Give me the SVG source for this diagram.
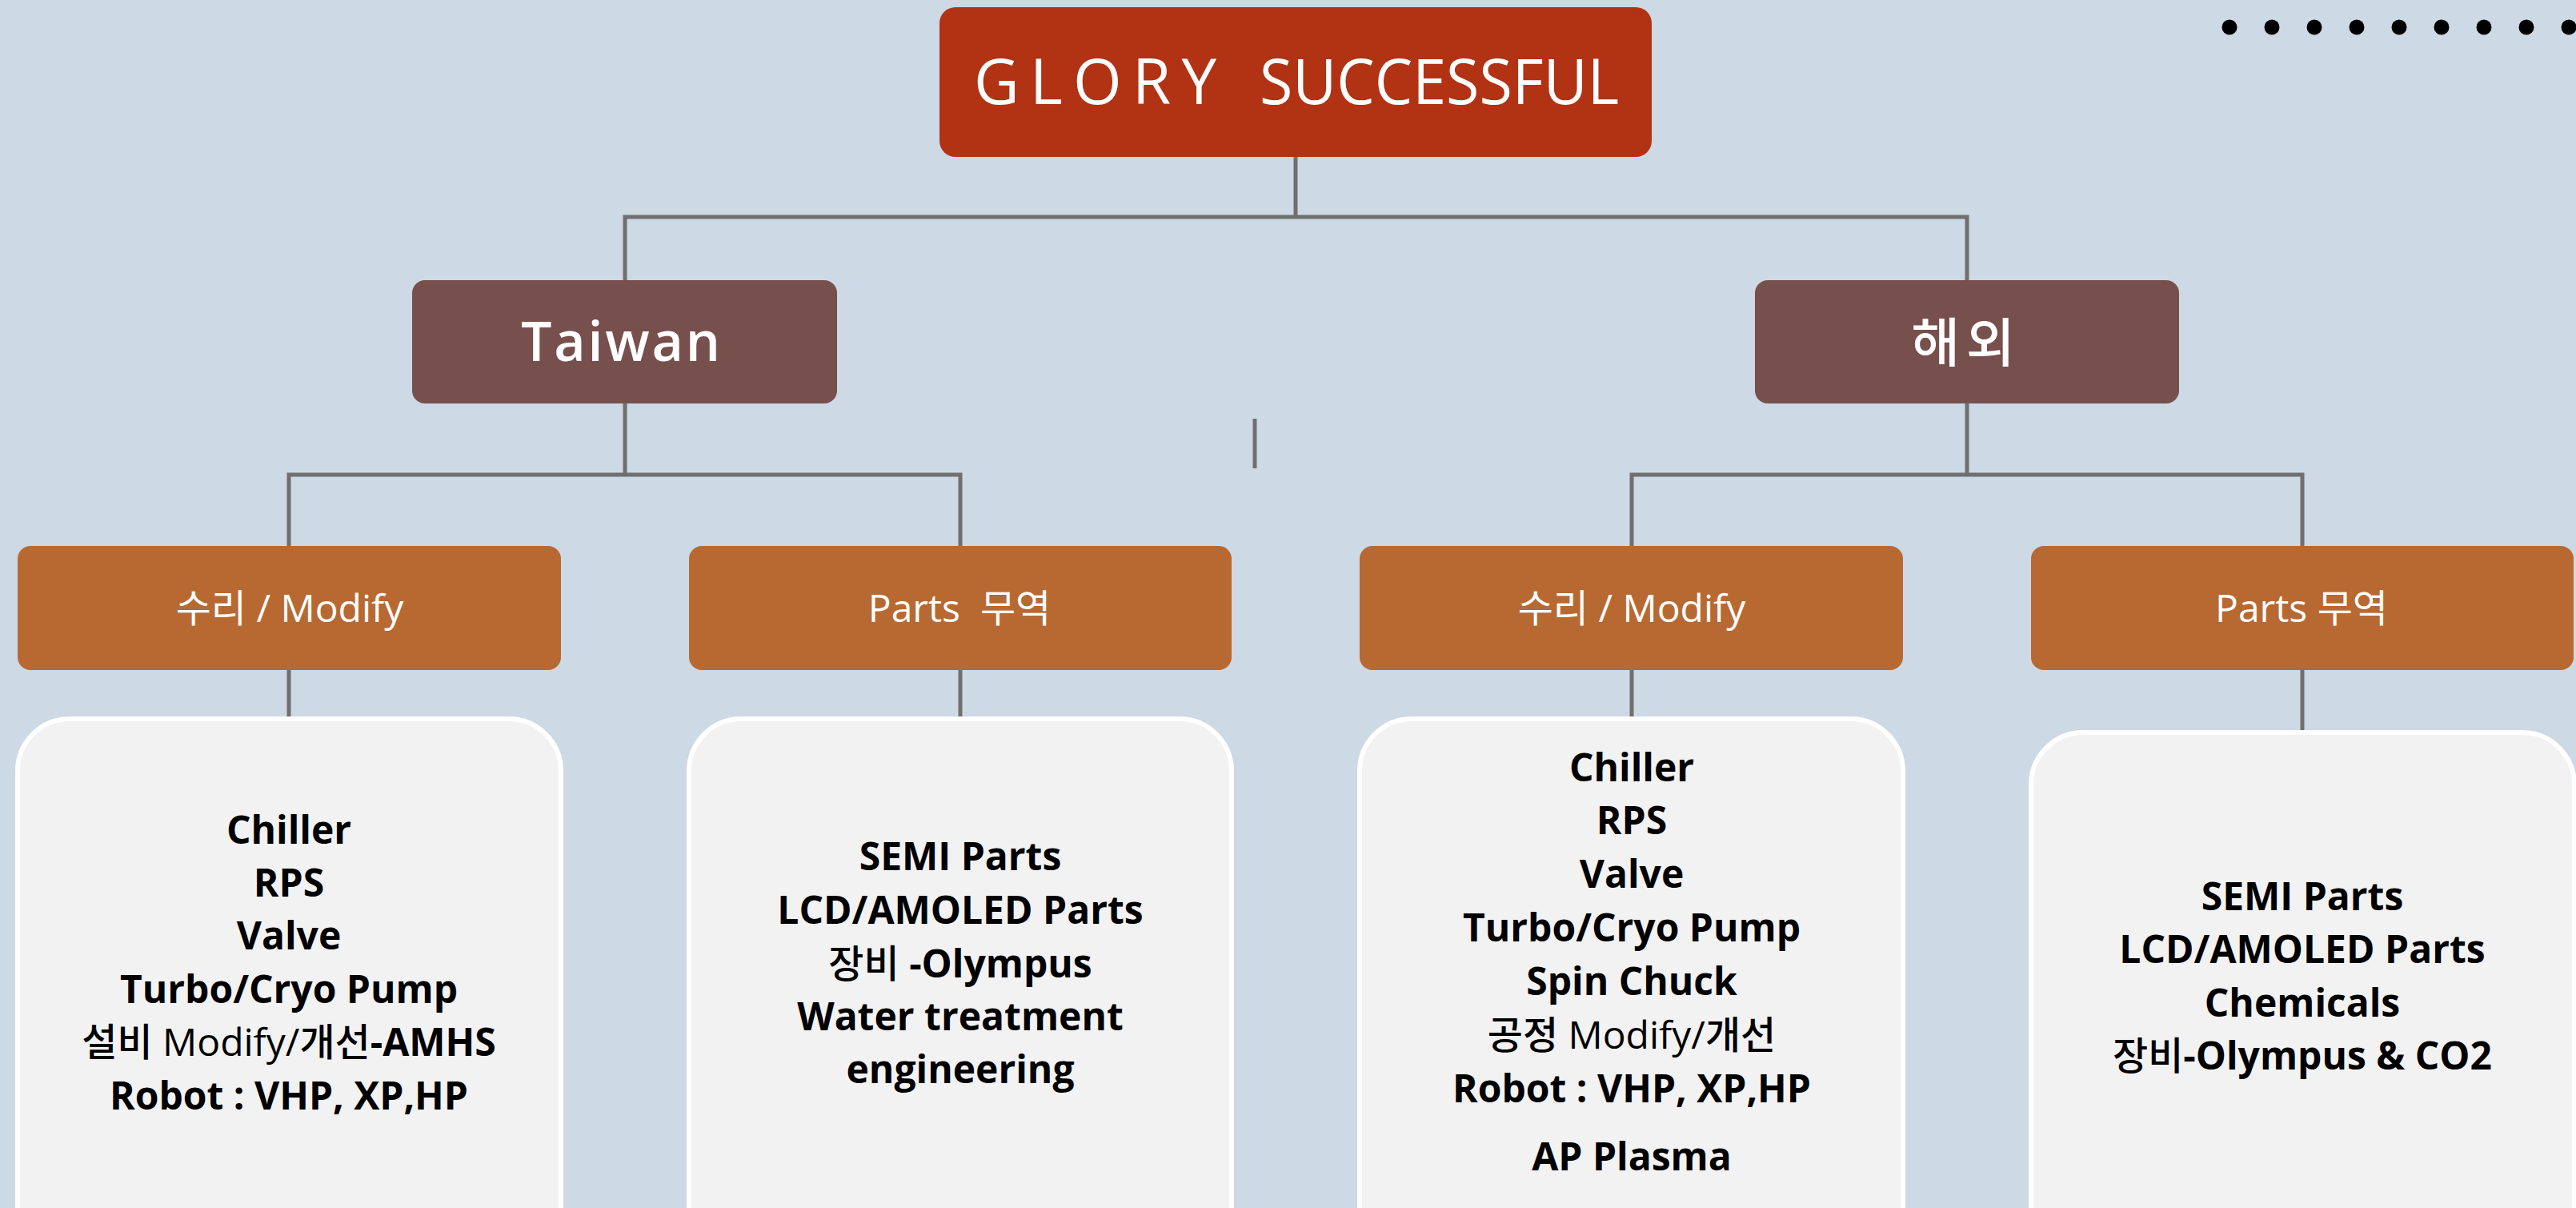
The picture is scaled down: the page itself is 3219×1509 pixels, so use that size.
<svg xmlns="http://www.w3.org/2000/svg" width="3219" height="1509" viewBox="0 0 3219 1509">
<style>
.bg{fill:#CDD9E4}
.conn{fill:none;stroke:#6F6F6F;stroke-width:5}
.top{fill:#B23214}
.region{fill:#774F4D}
.cat{fill:#B86932}
.card{fill:#F2F2F2;stroke:#FFFFFF;stroke-width:6}
.hdr{font-family:"Open Sans","Noto Sans CJK KR",sans-serif;fill:#FFFFFF}
.body{font-family:"Open Sans","Noto Sans CJK KR",sans-serif;font-weight:700;font-size:48px;fill:#000000;text-anchor:middle}
.ko{font-family:"Noto Sans CJK KR",sans-serif;font-weight:500}
.reg{font-weight:400}
.dot{fill:#000000}
</style>
<rect class="bg" x="0" y="0" width="3219" height="1509"/>

<g id="dots">
<circle class="dot" cx="2786" cy="34" r="9.5"/>
<circle class="dot" cx="2839" cy="34" r="9.5"/>
<circle class="dot" cx="2892" cy="34" r="9.5"/>
<circle class="dot" cx="2945" cy="34" r="9.5"/>
<circle class="dot" cx="2998" cy="34" r="9.5"/>
<circle class="dot" cx="3051" cy="34" r="9.5"/>
<circle class="dot" cx="3104" cy="34" r="9.5"/>
<circle class="dot" cx="3157" cy="34" r="9.5"/>
<circle class="dot" cx="3210" cy="34" r="9.5"/>
</g>

<g id="connectors">
<path class="conn" d="M1619,196 V271"/>
<path class="conn" d="M781,350 V271 H2458 V350"/>
<path class="conn" d="M781,504 V593"/>
<path class="conn" d="M361,682 V593 H1200 V682"/>
<path class="conn" d="M2458,504 V593"/>
<path class="conn" d="M2039,682 V593 H2877 V682"/>
<path class="conn" d="M361,837 V898"/>
<path class="conn" d="M1200,837 V898"/>
<path class="conn" d="M2039,837 V898"/>
<path class="conn" d="M2877,837 V915"/>
<path class="conn" d="M1568,523 V585"/>
</g>

<g id="root">
<rect class="top" x="1174" y="9" width="890" height="187" rx="20"/>
<text class="hdr" x="1217" y="130" font-size="78" textLength="303" lengthAdjust="spacing">GLORY</text>
<text class="hdr" x="1574" y="130" font-size="78" textLength="449" lengthAdjust="spacingAndGlyphs">SUCCESSFUL</text>
</g>

<g id="taiwan">
<rect class="region" x="515" y="350" width="531" height="154" rx="16"/>
<text class="hdr" x="651" y="451" font-size="68" font-weight="600" textLength="249" lengthAdjust="spacing">Taiwan</text>
</g>

<g id="overseas">
<rect class="region" x="2193" y="350" width="530" height="154" rx="16"/>
<text class="hdr" x="2457" y="452" font-size="66" font-weight="500" text-anchor="middle" letter-spacing="8" style="font-family:'Noto Sans CJK KR',sans-serif">해외</text>
</g>

<g id="tw-repair">
<rect class="cat" x="22" y="682" width="679" height="155" rx="16"/>
<text class="hdr" x="362" y="777" font-size="48" text-anchor="middle">수리 / Modify</text>
</g>
<g id="tw-parts">
<rect class="cat" x="861" y="682" width="678" height="155" rx="16"/>
<text class="hdr" x="1199" y="777" font-size="48" text-anchor="middle" style="white-space:pre">Parts  무역</text>
</g>
<g id="os-repair">
<rect class="cat" x="1699" y="682" width="679" height="155" rx="16"/>
<text class="hdr" x="2039" y="777" font-size="48" text-anchor="middle">수리 / Modify</text>
</g>
<g id="os-parts">
<rect class="cat" x="2538" y="682" width="678" height="155" rx="16"/>
<text class="hdr" x="2876" y="777" font-size="48" text-anchor="middle">Parts 무역</text>
</g>

<g id="tw-repair-items">
<rect class="card" x="22" y="898" width="679" height="700" rx="65"/>
<text class="body" x="361" y="1054">Chiller</text>
<text class="body" x="361" y="1120">RPS</text>
<text class="body" x="361" y="1186">Valve</text>
<text class="body" x="361" y="1253">Turbo/Cryo Pump</text>
<text class="body" x="361" y="1319"><tspan class="ko">설비</tspan><tspan class="reg"> Modify/</tspan><tspan class="ko">개선</tspan>-AMHS</text>
<text class="body" x="361" y="1386">Robot : VHP, XP,HP</text>
</g>

<g id="tw-parts-items">
<rect class="card" x="861" y="898" width="678" height="700" rx="65"/>
<text class="body" x="1200" y="1087">SEMI Parts</text>
<text class="body" x="1200" y="1154">LCD/AMOLED Parts</text>
<text class="body" x="1200" y="1221"><tspan class="ko">장비</tspan> -Olympus</text>
<text class="body" x="1200" y="1287">Water treatment</text>
<text class="body" x="1200" y="1353">engineering</text>
</g>

<g id="os-repair-items">
<rect class="card" x="1699" y="898" width="679" height="700" rx="65"/>
<text class="body" x="2039" y="976">Chiller</text>
<text class="body" x="2039" y="1042">RPS</text>
<text class="body" x="2039" y="1109">Valve</text>
<text class="body" x="2039" y="1176">Turbo/Cryo Pump</text>
<text class="body" x="2039" y="1243">Spin Chuck</text>
<text class="body" x="2039" y="1310"><tspan class="ko">공정</tspan><tspan class="reg"> Modify/</tspan><tspan class="ko">개선</tspan></text>
<text class="body" x="2039" y="1377">Robot : VHP, XP,HP</text>
<text class="body" x="2039" y="1462">AP Plasma</text>
</g>

<g id="os-parts-items">
<rect class="card" x="2538" y="915" width="679" height="700" rx="65"/>
<text class="body" x="2877" y="1137">SEMI Parts</text>
<text class="body" x="2877" y="1203">LCD/AMOLED Parts</text>
<text class="body" x="2877" y="1270">Chemicals</text>
<text class="body" x="2877" y="1336"><tspan class="ko">장비</tspan>-Olympus &amp; CO2</text>
</g>
</svg>
